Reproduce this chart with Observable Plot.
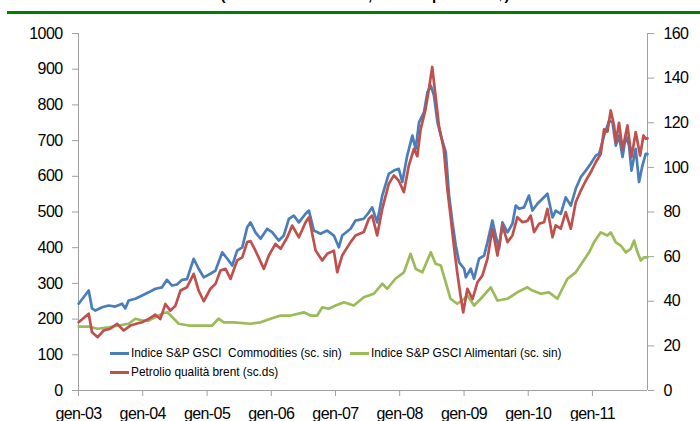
<!DOCTYPE html>
<html><head><meta charset="utf-8">
<script src="https://cdn.jsdelivr.net/npm/d3@7"></script>
<script src="https://cdn.jsdelivr.net/npm/@observablehq/plot@0.6"></script>
<style>
body{margin:0;background:#fff;font-family:"Liberation Sans",Arial,sans-serif;}
#wrap{position:relative;width:700px;height:421px;overflow:hidden;background:#fff;}
#wrap svg{position:absolute;left:0;top:0;}
#wrap svg g[aria-label$="tick label"] text{letter-spacing:-0.6px;}
#title{position:absolute;left:0;width:730px;top:-14px;line-height:17px;text-align:center;font-size:15px;font-weight:bold;white-space:pre;color:#000;}
#rule{position:absolute;left:7px;right:0;top:11px;height:3px;background:#008000;}
.leg{position:absolute;font-size:13px;line-height:14px;white-space:pre;transform:scaleX(0.91);transform-origin:0 50%;color:#000;}
.sw{position:absolute;height:3px;width:19px;}
</style></head><body>
<div id="wrap">
  <div id="title">(valori in dollari USA, indici e prezzi in $)</div>
  <div id="rule"></div>
</div>
<script>
// ---- data ----
const seriesNames = ["Indice S&P GSCI  Commodities (sc. sin)", "Indice S&P GSCI Alimentari (sc. sin)", "Petrolio qualità brent (sc.ds)"];
const seriesColors = ["#4a7ebb", "#9bbb59", "#c0504d"];

const blueDates = ["2003-01-02","2003-02-28","2003-03-19","2003-04-07","2003-05-15","2003-06-21","2003-07-29","2003-09-06","2003-09-24","2003-10-13","2003-11-20","2003-12-29",
"2004-02-04","2004-03-13","2004-04-20","2004-05-18","2004-06-16","2004-07-14","2004-08-12","2004-09-09","2004-10-17","2004-11-14","2004-12-13",
"2005-01-20","2005-02-18","2005-03-28","2005-04-26","2005-05-24","2005-06-21","2005-07-20","2005-08-17","2005-09-05","2005-10-03","2005-11-01","2005-12-09",
"2006-01-07","2006-02-13","2006-03-13","2006-04-11","2006-05-09","2006-06-07","2006-07-15","2006-08-03","2006-08-31","2006-10-08","2006-11-15","2006-12-23",
"2007-01-20","2007-02-08","2007-03-28","2007-04-25","2007-06-11","2007-07-10","2007-07-29","2007-08-26","2007-09-24","2007-10-31","2007-11-29","2007-12-27",
"2008-01-16","2008-02-13","2008-03-13","2008-04-01","2008-04-20","2008-05-18","2008-06-07","2008-06-26","2008-07-14","2008-08-03","2008-08-22","2008-09-19","2008-10-08","2008-10-27","2008-11-15","2008-12-04",
"2009-01-02","2009-01-11","2009-02-08","2009-02-27","2009-03-27","2009-04-25","2009-05-14","2009-06-11","2009-06-30","2009-07-19","2009-08-07","2009-09-05","2009-10-03","2009-10-22","2009-11-10","2009-12-08",
"2010-01-05","2010-01-25","2010-02-22","2010-03-23","2010-04-20","2010-05-19","2010-06-06","2010-07-05","2010-08-02","2010-08-31","2010-09-28","2010-10-27","2010-11-24","2010-12-22",
"2011-01-20","2011-02-08","2011-03-08","2011-04-06","2011-04-25","2011-05-14","2011-06-01","2011-06-21","2011-07-10","2011-07-28","2011-08-11","2011-09-04","2011-09-23","2011-10-12","2011-10-31","2011-11-10"];
const blueValues = [243,280,230,224,233,238,235,243,230,252,257,266,
275,285,289,310,294,297,310,312,369,341,317,
327,336,387,369,350,392,401,457,471,443,425,453,
443,420,434,481,490,471,495,504,448,439,448,434,
401,434,453,476,481,499,513,471,546,607,616,621,
584,658,714,677,751,779,836,854,826,751,714,668,546,471,406,359,
341,317,341,313,369,378,415,476,434,397,471,443,467,518,509,513,
546,504,523,537,551,485,504,495,541,518,565,598,616,635,
658,663,714,756,751,686,714,654,714,686,616,677,584,630,663,662];

const greenDates = ["2003-01-02","2003-02-28","2003-04-20","2003-06-21","2003-08-17","2003-10-13","2003-11-20","2003-12-29",
"2004-02-04","2004-04-01","2004-04-30","2004-05-21","2004-06-26","2004-07-24","2004-09-19","2004-11-14",
"2005-01-30","2005-03-07","2005-04-06","2005-05-31","2005-09-05","2005-11-01","2005-12-28",
"2006-02-23","2006-04-21","2006-07-05","2006-08-12","2006-09-19","2006-10-18","2006-11-24",
"2007-01-02","2007-02-18","2007-04-15","2007-06-11","2007-08-07","2007-09-24","2007-10-22","2007-12-08",
"2008-01-25","2008-03-03","2008-04-01","2008-05-09","2008-06-26","2008-07-23","2008-08-22","2008-09-19","2008-10-16","2008-11-23",
"2009-01-02","2009-01-20","2009-02-27","2009-04-06","2009-06-02","2009-07-10","2009-09-05","2009-10-31","2009-12-27",
"2010-01-25","2010-03-13","2010-04-29","2010-06-16","2010-07-14","2010-08-12","2010-09-28","2010-11-05","2010-12-13",
"2011-01-10","2011-02-17","2011-03-27","2011-04-15","2011-05-14","2011-06-11","2011-07-10","2011-08-07","2011-08-26","2011-09-14","2011-10-03","2011-10-22","2011-11-10"];
const greenValues = [179,179,173,177,182,187,201,196,
196,210,217,219,201,187,182,182,
182,201,191,191,187,191,201,
210,210,219,210,210,233,229,
238,247,238,261,271,299,285,313,
331,383,341,331,387,355,350,303,257,243,
257,266,238,257,289,252,257,275,289,
280,271,275,257,285,313,331,359,387,
415,443,434,443,415,406,387,397,420,387,364,373,373];

const redDates = ["2003-01-02","2003-02-28","2003-03-19","2003-04-20","2003-05-24","2003-07-01","2003-08-08","2003-09-15","2003-10-23","2003-11-30","2003-12-29",
"2004-02-04","2004-03-13","2004-04-10","2004-05-09","2004-06-06","2004-07-05","2004-08-03","2004-09-09","2004-10-17","2004-11-14","2004-12-13",
"2005-01-20","2005-02-18","2005-03-18","2005-04-16","2005-05-14","2005-06-21","2005-07-20","2005-08-17","2005-09-05","2005-10-03","2005-11-20","2005-12-18",
"2006-01-25","2006-02-23","2006-04-02","2006-04-30","2006-06-07","2006-07-15","2006-08-03","2006-09-10","2006-10-18","2006-11-15","2006-12-23",
"2007-01-11","2007-02-08","2007-03-28","2007-04-25","2007-06-11","2007-07-10","2007-07-29","2007-08-26","2007-09-24","2007-10-31","2007-11-29","2007-12-27",
"2008-01-25","2008-02-22","2008-03-22","2008-04-10","2008-04-29","2008-05-27","2008-06-15","2008-07-04","2008-07-23","2008-08-11","2008-09-08","2008-09-28","2008-10-16","2008-11-04","2008-11-23","2008-12-12","2008-12-27",
"2009-01-20","2009-02-18","2009-03-18","2009-04-15","2009-05-14","2009-06-11","2009-07-10","2009-08-07","2009-09-05","2009-10-03","2009-10-31","2009-11-29","2009-12-27",
"2010-01-15","2010-02-03","2010-03-03","2010-04-01","2010-04-20","2010-05-19","2010-06-06","2010-07-05","2010-08-02","2010-08-31","2010-09-28","2010-10-27","2010-11-24","2010-12-22",
"2011-01-20","2011-02-17","2011-03-08","2011-03-27","2011-04-15","2011-05-04","2011-05-14","2011-06-01","2011-06-21","2011-07-19","2011-08-11","2011-09-04","2011-09-29","2011-10-18","2011-10-31","2011-11-10"];
const redValues = [30.6,34.4,26.1,23.9,26.9,27.7,29.9,26.9,29.1,30,30.6,
32.1,34,32,38.8,35.8,38,44.8,46.3,52.3,44.8,40,
45.6,47.8,53.8,54.5,50,58.3,59.7,66.5,67,62.7,54.5,60.5,
65.7,63.5,68.7,73.9,68.7,75.4,77.6,62.7,58.3,61.3,62.7,
53,60.5,66.5,69.5,71,77,78.4,69.5,81.4,92.6,96.4,94,
88.9,100.8,108.3,105,117,126,135,145,132,118.8,108,90.4,78.4,65,53,42.6,35,
45.6,41,48.5,51.5,59,72.5,60.5,74,66.5,69.5,77.7,75.4,76,
78.4,71,74.7,75.4,81.4,68.7,74,72.5,79.9,72.5,84.4,89.6,94,97.8,
102.3,106,117,116,125.5,118.8,111.3,120,108,118.8,104.6,115.8,105.3,114.3,112.8,113];

const leftTicks = [0,100,200,300,400,500,600,700,800,900,1000];
const rightTicks = [0,20,40,60,80,100,120,140,160];
const tickYears = [2003,2004,2005,2006,2007,2008,2009,2010,2011];
const xTickLabels = ["gen-03","gen-04","gen-05","gen-06","gen-07","gen-08","gen-09","gen-10","gen-11"];
const xStartStr = "2003-01-01", xEndStr = "2011-11-10";

// ---- build ----
const leftMax = leftTicks[leftTicks.length-1], rightMax = rightTicks[rightTicks.length-1];
const ratio = leftMax / rightMax;
const mk = (dates, vals) => dates.map((d,i) => ({date: d3.isoParse(d), v: vals[i]}));
const blue = mk(blueDates, blueValues);
const green = mk(greenDates, greenValues);
const red = mk(redDates, redValues);
const xStart = d3.isoParse(xStartStr), xEnd = d3.isoParse(xEndStr);
const tickDates = tickYears.map(y => new Date(Date.UTC(y,0,1)));
const axisGray = "#a0a0a0";

const chart = Plot.plot({
  width: 700, height: 421,
  marginLeft: 78, marginRight: 53, marginTop: 33, marginBottom: 31,
  style: {fontFamily: '"Liberation Sans", Arial, sans-serif', fontSize: "16px", color: "#000", background: "transparent", overflow: "visible"},
  x: {type: "utc", domain: [xStart, xEnd]},
  y: {domain: [0, leftMax]},
  marks: [
    Plot.axisY({anchor: "left", ticks: leftTicks, tickFormat: d => String(d), tickSize: 6, tickPadding: 10, stroke: axisGray, label: null}),
    Plot.axisY({anchor: "right", ticks: rightTicks.map(v => v*ratio), tickFormat: d => String(rightTicks[rightTicks.findIndex(v => Math.abs(v*ratio - d) < 1e-6)]), tickSize: 6, tickPadding: 10, stroke: axisGray, label: null}),
    Plot.axisX({ticks: tickDates, tickFormat: d => xTickLabels[tickYears.indexOf(d.getUTCFullYear())], tickSize: 6, tickPadding: 11, stroke: axisGray, label: null}),
    Plot.ruleY([0], {stroke: axisGray}),
    Plot.ruleX([xStart, xEnd], {stroke: axisGray}),
    Plot.line(blue, {x: "date", y: "v", stroke: seriesColors[0], strokeWidth: 2.7}),
    Plot.line(green, {x: "date", y: "v", stroke: seriesColors[1], strokeWidth: 2.7}),
    Plot.line(red, {x: "date", y: d => d.v * ratio, stroke: seriesColors[2], strokeWidth: 2.7})
  ]
});

const wrap = document.getElementById("wrap");
wrap.insertBefore(chart, wrap.firstChild);

// legend
const legendItems = [
  {i: 0, sx: 110, sy: 352, tx: 131},
  {i: 1, sx: 350, sy: 352, tx: 371},
  {i: 2, sx: 110, sy: 371, tx: 131}
];
legendItems.forEach(it => {
  const sw = document.createElement("div");
  sw.className = "sw"; sw.style.left = it.sx + "px"; sw.style.top = it.sy + "px";
  sw.style.background = seriesColors[it.i];
  wrap.appendChild(sw);
  const tx = document.createElement("div");
  tx.className = "leg"; tx.style.left = it.tx + "px"; tx.style.top = (it.sy - 6) + "px";
  tx.textContent = seriesNames[it.i];
  wrap.appendChild(tx);
});
</script>
</body></html>
